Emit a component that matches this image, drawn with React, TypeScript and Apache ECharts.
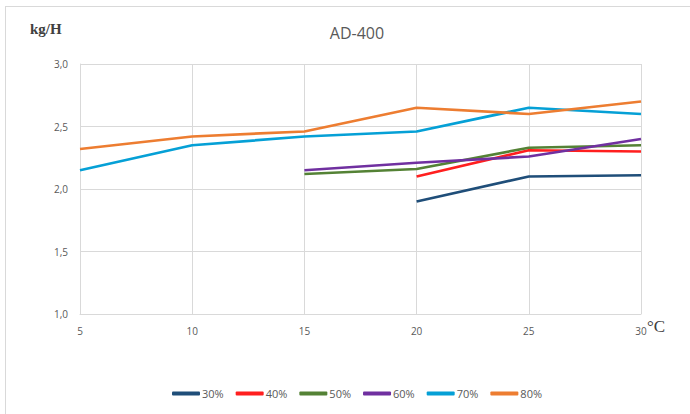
import React, { useEffect, useRef } from "react";
import * as echarts from "echarts";

const categories = ["5", "10", "15", "20", "25", "30"];
const seriesNames = ["30%", "40%", "50%", "60%", "70%", "80%"];
const s30 = [null, null, null, 1.9, 2.1, 2.11];
const s40 = [null, null, null, 2.1, 2.31, 2.3];
const s50 = [null, null, 2.12, 2.16, 2.33, 2.35];
const s60 = [null, null, 2.15, 2.21, 2.26, 2.4];
const s70 = [2.15, 2.35, 2.42, 2.46, 2.65, 2.6];
const s80 = [2.32, 2.42, 2.46, 2.65, 2.6, 2.7];
const colors = ["#1F4E79", "#FF1F1F", "#548235", "#7030A0", "#05A0D6", "#ED7D31"];

export default function App() {
  const ref = useRef<HTMLDivElement>(null);
  useEffect(() => {
    if (!ref.current) return;
    const chart = echarts.init(ref.current, null, { renderer: "svg" });
    const all = [s30, s40, s50, s60, s70, s80];
    chart.setOption({
      animation: false,
      backgroundColor: "#ffffff",
      title: {
        text: "AD-400",
        left: 352,
        textAlign: "center",
        top: 20,
        textStyle: { color: "#595959", fontSize: 16, fontWeight: "normal", fontFamily: "Open Sans" },
      },
      grid: { left: 80, right: 49, top: 64, bottom: 100, containLabel: false },
      xAxis: {
        type: "category",
        data: categories,
        boundaryGap: false,
        axisLine: { show: true, lineStyle: { color: "#D9D9D9", width: 1 } },
        axisTick: { show: false },
        axisLabel: { color: "#595959", fontSize: 10, margin: 12, fontFamily: "Open Sans" },
        splitLine: { show: true, lineStyle: { color: "#D9D9D9", width: 1 } },
      },
      yAxis: {
        type: "value",
        min: 1,
        max: 3,
        interval: 0.5,
        axisLine: { show: true, lineStyle: { color: "#D9D9D9", width: 1 } },
        axisTick: { show: false },
        axisLabel: {
          color: "#595959",
          fontSize: 10,
          margin: 12,
          fontFamily: "Open Sans",
          formatter: (v: number) => v.toFixed(1).replace(".", ","),
        },
        splitLine: { show: true, lineStyle: { color: "#D9D9D9", width: 1 } },
      },
      legend: {
        data: seriesNames,
        bottom: 10,
        left: 167,
        icon: "roundRect",
        itemWidth: 28,
        itemHeight: 4,
        itemGap: 12,
        textStyle: { color: "#595959", fontSize: 11, fontFamily: "Open Sans", padding: [0, 0, 0, -3] },
      },
      series: all.map((d, i) => ({
        name: seriesNames[i],
        type: "line",
        data: d,
        symbol: "none",
        color: colors[i],
        lineStyle: { color: colors[i], width: 2.75 },
      })),
      graphic: [
        { type: "line", shape: { x1: 5, y1: 6.5, x2: 690, y2: 6.5 }, style: { stroke: "#D9D9D9", lineWidth: 1 } },
        { type: "line", shape: { x1: 5.5, y1: 6, x2: 5.5, y2: 414 }, style: { stroke: "#D9D9D9", lineWidth: 1 } },
        {
          type: "text",
          left: 30,
          top: 21,
          style: { text: "kg/H", fill: "#404040", font: "bold 15px 'Liberation Serif', serif" },
        },
        {
          type: "text",
          left: 647,
          top: 318,
          style: { text: "°C", fill: "#404040", font: "17px 'Liberation Serif', serif" },
        },
      ],
    });
    return () => chart.dispose();
  }, []);
  return <div ref={ref} style={{ position: "fixed", left: 0, top: 0, width: 690, height: 414 }} />;
}
